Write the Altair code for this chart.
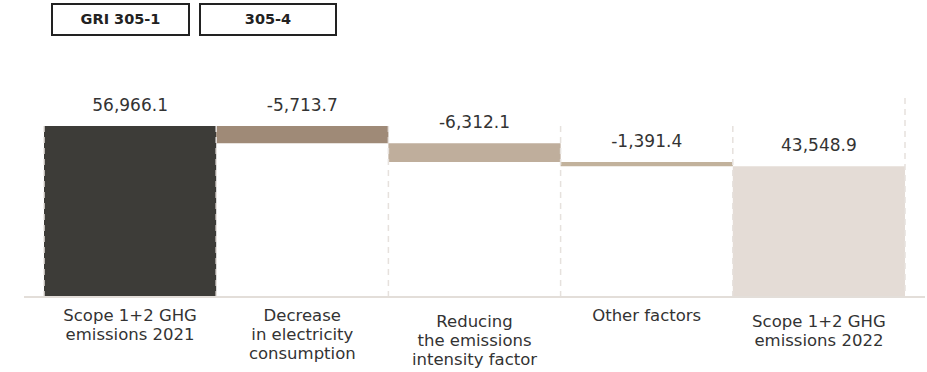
import altair as alt
import pandas as pd

categories = [
    "Scope 1+2 GHG|emissions 2021",
    "Decrease|in electricity|consumption",
    "Reducing|the emissions|intensity factor",
    "Other factors",
    "Scope 1+2 GHG|emissions 2022",
]
values = [56966.1, -5713.7, -6312.1, -1391.4, 43548.9]
is_total = [True, False, False, False, True]
colors = ["#3d3c38", "#9f8a77", "#bfae9c", "#c2b29c", "#e4dcd6"]
gri_boxes = ["GRI 305-1", "305-4"]

rows = []
running = 0.0
for c, v, t in zip(categories, values, is_total):
    if t:
        start, end = 0.0, v
        running = v
    else:
        start, end = running, running + v
        running = running + v
    rows.append({
        "cat": c,
        "start": start,
        "end": end,
        "top": max(start, end),
        "label": f"{v:,.1f}",
    })
df = pd.DataFrame(rows)

W, H = 861, 199
FONT = "DejaVu Sans"

xscale = alt.Scale(domain=categories, paddingInner=0, paddingOuter=0)
yscale = alt.Scale(domain=[0, 66300], nice=False, zero=True)

shift_test = "datum.value == 'Reducing|the emissions|intensity factor' || datum.value == 'Scope 1+2 GHG|emissions 2022'"

x_axis = alt.Axis(
    title=None,
    labelAngle=0,
    ticks=False,
    domain=False,
    labelExpr="split(datum.label, '|')",
    labelFont=FONT,
    labelFontSize=16.5,
    labelColor="#333333",
    labelLineHeight=19,
    labelBaseline="top",
    labelPadding={"condition": {"test": shift_test, "value": 16}, "value": 10},
)

bars = alt.Chart(df).mark_bar().encode(
    x=alt.X("cat:N", sort=categories, scale=xscale, axis=x_axis),
    y=alt.Y("start:Q", scale=yscale, axis=None),
    y2="end:Q",
    color=alt.Color("cat:N", scale=alt.Scale(domain=categories, range=colors), legend=None),
)

labels = alt.Chart(df).mark_text(
    font=FONT, fontSize=17, color="#333333", baseline="alphabetic", dy=-15
).encode(
    x=alt.X("cat:N", sort=categories, scale=xscale),
    y=alt.Y("top:Q", scale=yscale),
    text="label:N",
)

dashes = alt.Chart(df).mark_rule(
    color="#e6e1dd", strokeWidth=1.5, strokeDash=[6, 5]
).encode(
    x=alt.X("cat:N", sort=categories, scale=xscale, bandPosition=0),
    y=alt.value(28),
    y2=alt.value(H),
)

end_dash = alt.Chart(pd.DataFrame({"k": [0]})).mark_rule(
    color="#e6e1dd", strokeWidth=1.5, strokeDash=[6, 5]
).encode(x=alt.value(W), y=alt.value(0), y2=alt.value(H))

baseline = alt.Chart(pd.DataFrame({"k": [0]})).mark_rule(
    color="#e3ded9", strokeWidth=2
).encode(x=alt.value(-20), x2=alt.value(W + 20), y=alt.value(H))

box_layers = []
box_x = [(8, 145), (156, 292)]
for lab, (x0, x1) in zip(gri_boxes, box_x):
    bd = pd.DataFrame({"t": [lab]})
    box_layers.append(
        alt.Chart(bd).mark_rect(fillOpacity=0, stroke="#222222", strokeWidth=2).encode(
            x=alt.value(x0), x2=alt.value(x1), y=alt.value(-94), y2=alt.value(-63)
        )
    )
    box_layers.append(
        alt.Chart(bd).mark_text(
            font=FONT, fontSize=14.5, fontWeight="bold", color="#222222", baseline="middle"
        ).encode(x=alt.value((x0 + x1) / 2), y=alt.value(-78.5), text="t:N")
    )

chart = alt.layer(bars, dashes, end_dash, baseline, labels, *box_layers).properties(
    width=W,
    height=H,
    autosize=alt.AutoSizeParams(type="none"),
    padding={"left": 44, "top": 98, "right": 22, "bottom": 75},
).configure(background="white", view=alt.ViewConfig(stroke=None))

chart.save("out.html", embed_options={"renderer": "svg", "actions": False})
